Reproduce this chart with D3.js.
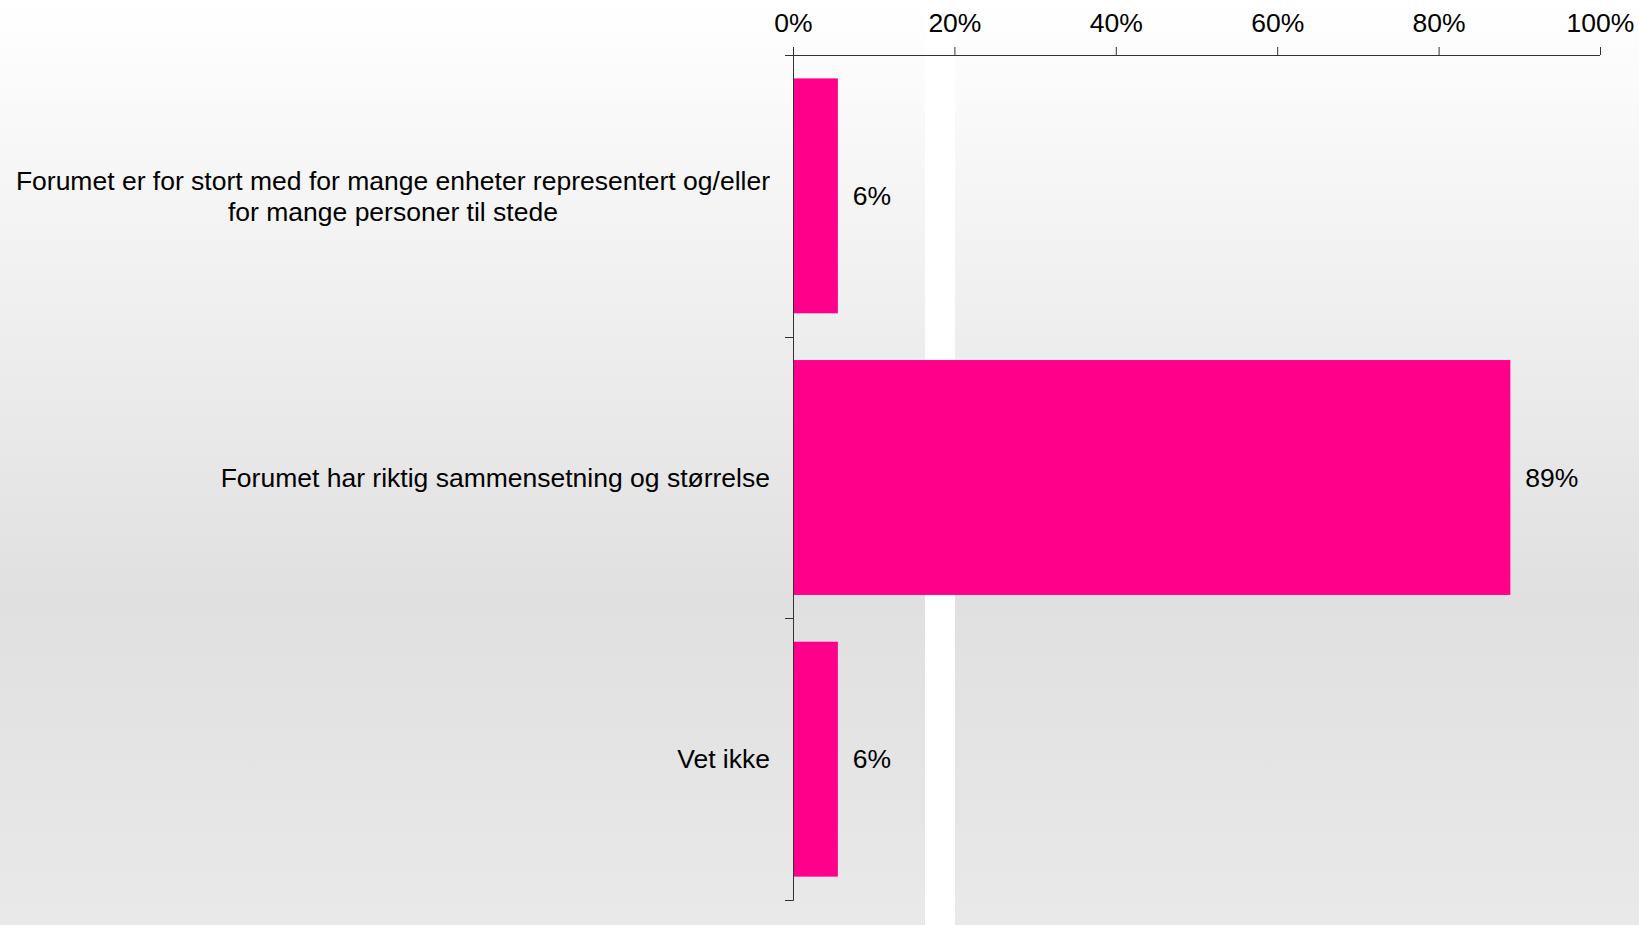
<!DOCTYPE html>
<html>
<head>
<meta charset="utf-8">
<script src="https://cdn.jsdelivr.net/npm/d3@7"></script>
<style>
  html, body { margin: 0; padding: 0; background: #fff; }
  svg { display: block; }
</style>
</head>
<body>
<div id="chart"></div>
<script>
// -----------------------------------------
// DATA
// -----------------------------------------
var categories = ["forstort", "riktig", "vetikke"];
var categoryLines = [
  ["Forumet er for stort med for mange enheter representert og/eller", "for mange personer til stede"],
  ["Forumet har riktig sammensetning og størrelse"],
  ["Vet ikke"]
];
var values = [5.56, 88.89, 5.56];          // percent
var valueLabels = ["6%", "89%", "6%"];
var xTicks = [0, 20, 40, 60, 80, 100];

// -----------------------------------------
// FORMAT
// -----------------------------------------
var W = 1639, H = 925;
var x0 = 793, x1 = 1600;   // plot left / right
var y0 = 55, y1 = 900;     // plot top / bottom
var fontF = "'Liberation Sans', Arial, sans-serif";
var fs = "26.5px";
var barColor = "#ff008a";
var axisColor = "#333";
var lineH = 31;
var labelRight = 770;

var svg = d3.select("#chart").append("svg")
  .attr("width", W)
  .attr("height", H);

// background gradient
var grad = svg.append("defs").append("linearGradient")
  .attr("id", "bg").attr("x1", 0).attr("y1", 0).attr("x2", 0).attr("y2", 1);
grad.append("stop").attr("offset", "0%").attr("stop-color", "#ffffff");
grad.append("stop").attr("offset", "65%").attr("stop-color", "#e0e0e0");
grad.append("stop").attr("offset", "100%").attr("stop-color", "#e9e9e9");

svg.append("rect").attr("width", W).attr("height", H).attr("fill", "url(#bg)");
// white stripe behind the plot
svg.append("rect").attr("x", 925).attr("y", 0).attr("width", 30).attr("height", H).attr("fill", "#fff");

// scales
var x = d3.scaleLinear().domain([0, 100]).range([x0, x1]);
var y = d3.scaleBand().domain(categories).range([y0, y1])
  .paddingInner(0.166).paddingOuter(0.083);

// bars
svg.selectAll("rect.bar")
  .data(categories)
  .enter().append("rect")
  .attr("class", "bar")
  .attr("x", x(0))
  .attr("y", function(d){ return y(d); })
  .attr("width", function(d, i){ return x(values[i]) - x(0); })
  .attr("height", y.bandwidth())
  .attr("fill", barColor);

// top axis
var xAxis = d3.axisTop(x)
  .tickValues(xTicks)
  .tickSizeInner(8)
  .tickSizeOuter(0)
  .tickPadding(15)
  .tickFormat(function(d){ return d + "%"; });

var gx = svg.append("g")
  .attr("transform", "translate(0," + y0 + ")")
  .call(xAxis);
gx.select(".domain").attr("stroke", axisColor).attr("d", "M" + (x0 - 8) + ",0.5H" + x1);
gx.selectAll(".tick line").attr("stroke", axisColor);
gx.selectAll("text")
  .style("font-family", fontF)
  .style("font-size", fs)
  .attr("fill", "#000");

// left axis (ticks on category boundaries)
var step = y.step();
var bounds = categories.map(function(d){ return y(d) - step * y.paddingOuter(); });
bounds.push(y1);

svg.append("line")
  .attr("x1", x0 + 0.5).attr("x2", x0 + 0.5)
  .attr("y1", y0 - 8).attr("y2", y1 + 0.5)
  .attr("stroke", axisColor);
svg.selectAll("line.ytick")
  .data(bounds)
  .enter().append("line")
  .attr("class", "ytick")
  .attr("x1", x0 - 8).attr("x2", x0 + 0.5)
  .attr("y1", function(d){ return Math.round(d) + 0.5; })
  .attr("y2", function(d){ return Math.round(d) + 0.5; })
  .attr("stroke", axisColor);

// category labels: block right-aligned, lines centred within block
svg.selectAll("text.cat")
  .data(categories)
  .enter().append("text")
  .attr("class", "cat")
  .attr("text-anchor", "middle")
  .style("font-family", fontF)
  .style("font-size", fs)
  .attr("fill", "#000")
  .each(function(d, i){
    var lines = categoryLines[i];
    var cy = y(d) + y.bandwidth() / 2;
    var t = d3.select(this);
    var spans = lines.map(function(l, j){
      return t.append("tspan")
        .attr("y", cy + (j - (lines.length - 1) / 2) * lineH + 9.3)
        .text(l);
    });
    var maxW = d3.max(spans, function(s){ return s.node().getComputedTextLength(); });
    spans.forEach(function(s){ s.attr("x", labelRight - maxW / 2); });
  });

// value labels
svg.selectAll("text.val")
  .data(categories)
  .enter().append("text")
  .attr("class", "val")
  .attr("x", function(d, i){ return x(values[i]) + 15; })
  .attr("y", function(d){ return y(d) + y.bandwidth() / 2 + 9.3; })
  .style("font-family", fontF)
  .style("font-size", fs)
  .attr("fill", "#000")
  .text(function(d, i){ return valueLabels[i]; });
</script>
</body>
</html>
